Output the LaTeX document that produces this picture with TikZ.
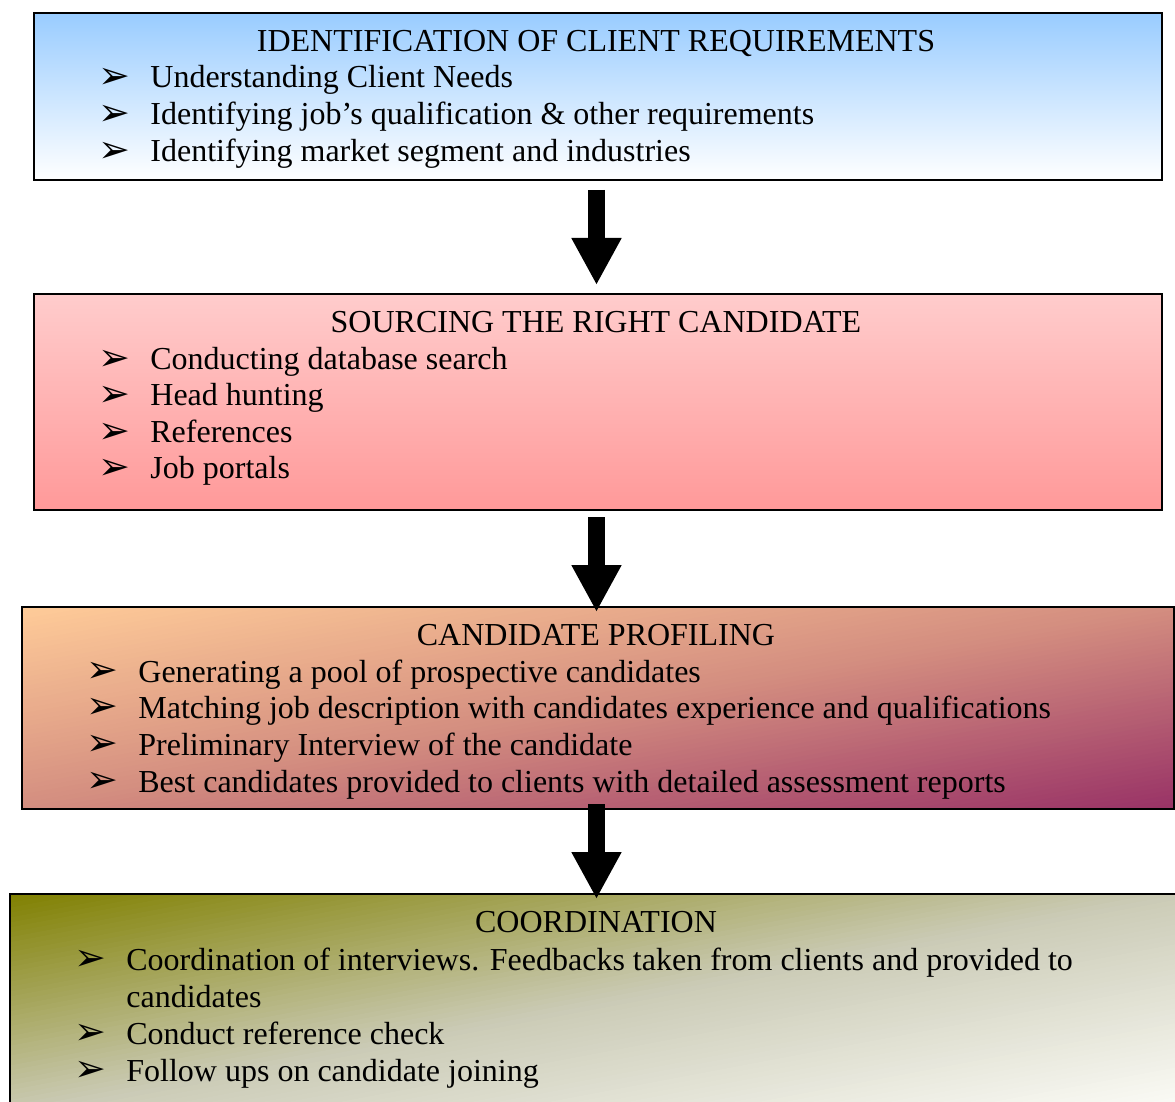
\documentclass[tikz,border=0pt]{standalone}
\usepackage{fontspec}
\setmainfont{Liberation Serif}
\newfontfamily\symfont{DejaVu Sans}
\usetikzlibrary{arrows.meta,calc}
\definecolor{blueT}{RGB}{153,204,255}
\definecolor{pinkT}{RGB}{255,204,204}
\definecolor{pinkB}{RGB}{255,153,153}
\definecolor{peachT}{RGB}{255,204,153}
\definecolor{peachM}{RGB}{212,142,128}
\definecolor{plumB}{RGB}{153,51,102}
\definecolor{oliveT}{RGB}{128,128,0}
\definecolor{oliveM}{RGB}{203,203,182}
\definecolor{paleB}{RGB}{253,253,249}
% diagonal gradient: x0 y0 W H c1(top-left) cmid c2(bottom-right)
\newcommand{\mydiagfill}[7]{%
  \begin{scope}
  \clip (#1,#2) rectangle ++(#3,#4);
  \foreach \i in {0,...,89}{%
    \pgfmathsetmacro\tm{(\i+0.5)/90}%
    \pgfmathsetmacro\ta{\i/90}%
    \pgfmathsetmacro\tb{(\i+1.7)/90}%
    \ifdim\tm pt<0.5pt
      \pgfmathsetmacro\p{\tm*200}%
      \colorlet{stripc}{#6!\p!#5}%
    \else
      \pgfmathsetmacro\p{(\tm-0.5)*200}%
      \colorlet{stripc}{#7!\p!#6}%
    \fi
    \fill[stripc] ({#1-0.6*#3+\ta*#3},{#2+0.6*#4+\ta*#4})
      -- ({#1-0.6*#3+\tb*#3},{#2+0.6*#4+\tb*#4})
      -- ({#1+0.6*#3+\tb*#3},{#2-0.6*#4+\tb*#4})
      -- ({#1+0.6*#3+\ta*#3},{#2-0.6*#4+\ta*#4}) -- cycle;
  }%
  \end{scope}}
\begin{document}
\begin{tikzpicture}[x=0.5pt,y=-0.5pt,
  box/.style={draw=black,line width=1.1pt,anchor=north west,inner sep=0pt,rectangle},
  ttl/.style={anchor=base,inner sep=0pt,font=\fontsize{16pt}{18.5pt}\selectfont},
  itm/.style={anchor=base west,inner sep=0pt,font=\fontsize{16pt}{18.5pt}\selectfont},
  bul/.style={anchor=center,inner sep=0pt,font=\symfont\fontsize{19pt}{19pt}\selectfont},
  blockarrow/.style={draw=black,line width=8.5pt,-{Triangle[width=23.5pt,length=23.5pt]}}
]
\useasboundingbox (0,0) rectangle (1175,1102);
\clip (0,0) rectangle (1175,1102);

% gradient fills of the two diagonal boxes
\mydiagfill{21}{606}{1152}{202}{peachT}{peachM}{plumB}
\mydiagfill{9}{893}{1176}{222}{oliveT}{oliveM}{paleB}

% boxes
\node[box,top color=blueT,bottom color=white,minimum width=564pt,minimum height=83.5pt] (b1) at (33,12) {};
\node[box,top color=pinkT,bottom color=pinkB,minimum width=564pt,minimum height=108pt] (b2) at (33,293) {};
\node[box,minimum width=576pt,minimum height=101pt] (b3) at (21,606) {};
\node[box,minimum width=588pt,minimum height=111pt] (b4) at (9,893) {};

% arrows
\coordinate (a1s) at (596.5,190);
\coordinate (a1e) at (596.5,285);
\coordinate (a2s) at (596.5,517);
\coordinate (a2e) at (596.5,612);
\coordinate (a3s) at (596.5,804);
\coordinate (a3e) at (596.5,899);
\draw[blockarrow] (a1s) -- (a1e);
\draw[blockarrow] (a2s) -- (a2e);
\draw[blockarrow] (a3s) -- (a3e);

% box 1
\node[ttl] (t1) at (596,52) {IDENTIFICATION OF CLIENT REQUIREMENTS};
\node[bul] (p11) at (114.5,78.5) {➢};
\node[itm] (i11) at (150,88) {Understanding Client Needs};
\node[bul] (p12) at (114.5,115.5) {➢};
\node[itm] (i12) at (150,125) {Identifying job’s qualification \& other requirements};
\node[bul] (p13) at (114.5,152.5) {➢};
\node[itm] (i13) at (150,162) {Identifying market segment and industries};

% box 2
\node[ttl] (t2) at (596,333) {SOURCING THE RIGHT CANDIDATE};
\node[bul] (p21) at (114.5,360.5) {➢};
\node[itm] (i21) at (150,370) {Conducting database search};
\node[bul] (p22) at (114.5,396.5) {➢};
\node[itm] (i22) at (150,406) {Head hunting};
\node[bul] (p23) at (114.5,433.5) {➢};
\node[itm] (i23) at (150,443) {References};
\node[bul] (p24) at (114.5,469.5) {➢};
\node[itm] (i24) at (150,479) {Job portals};

% box 3
\node[ttl] (t3) at (596,645) {CANDIDATE PROFILING};
\node[bul] (p31) at (102.5,672.5) {➢};
\node[itm] (i31) at (138,682) {Generating a pool of prospective candidates};
\node[bul] (p32) at (102.5,708.5) {➢};
\node[itm] (i32) at (138,718) {Matching job description with candidates experience and qualifications};
\node[bul] (p33) at (102.5,745.5) {➢};
\node[itm] (i33) at (138,755) {Preliminary Interview of the candidate};
\node[bul] (p34) at (102.5,782.5) {➢};
\node[itm] (i34) at (138,792) {Best candidates provided to clients with detailed assessment reports};

% box 4
\node[ttl] (t4) at (596,932) {COORDINATION};
\node[bul] (p41) at (90.5,960.5) {➢};
\node[itm] (i41) at (126,970) {Coordination of interviews. Feedbacks taken from clients and provided to};
\node[itm] (i41b) at (126,1007) {candidates};
\node[bul] (p42) at (90.5,1034.5) {➢};
\node[itm] (i42) at (126,1044) {Conduct reference check};
\node[bul] (p43) at (90.5,1071.5) {➢};
\node[itm] (i43) at (126,1081) {Follow ups on candidate joining};
\end{tikzpicture}
\end{document}
